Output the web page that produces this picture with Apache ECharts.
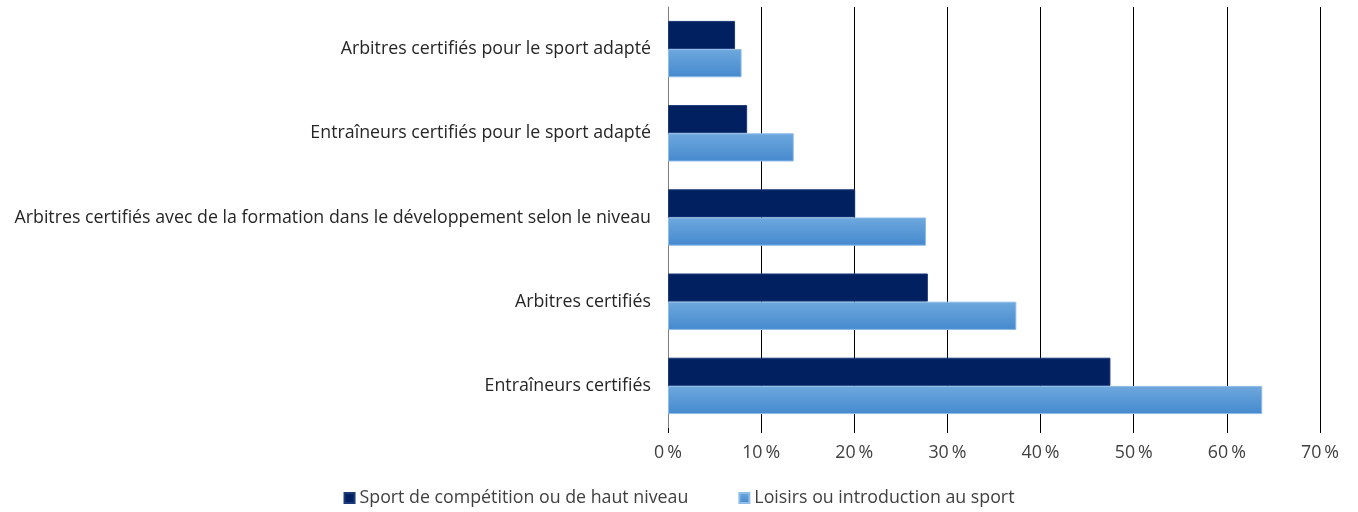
<!DOCTYPE html>
<html>
<head>
<meta charset="utf-8">
<script src="https://cdn.jsdelivr.net/npm/echarts@6/dist/echarts.min.js"></script>
<style>
  html, body { margin: 0; padding: 0; background: #fff; }
  #chart { width: 1358px; height: 512px; }
</style>
</head>
<body>
<div id="chart"></div>
<script>
const categories = [
  'Entraîneurs certifiés',
  'Arbitres certifiés',
  'Arbitres certifiés avec de la formation dans le développement selon le niveau',
  'Entraîneurs certifiés pour le sport adapté',
  'Arbitres certifiés pour le sport adapté'
]
const competition = [47.5, 27.9, 20.1, 8.5, 7.2]
const loisirs = [63.8, 37.4, 27.7, 13.5, 7.9]
const seriesNames = ['Sport de compétition ou de haut niveau', 'Loisirs ou introduction au sport']

const font = '"Open Sans", sans-serif'
const darkBlue = '#002060'
const lightGrad = new echarts.graphic.LinearGradient(0, 0, 0, 1, [
  { offset: 0, color: '#6ea8de' },
  { offset: 1, color: '#4589cd' }
])

const chart = echarts.init(document.getElementById('chart'))

chart.setOption({
  animation: false,
  textStyle: { fontFamily: font },
  grid: { left: 668, right: 38, top: 7, bottom: 84 },
  legend: {
    bottom: 0,
    left: 'center',
    itemWidth: 10,
    itemHeight: 10,
    itemGap: 50,
    icon: 'rect',
    textStyle: { fontSize: 17.8, color: '#404040', fontFamily: font },
    data: seriesNames
  },
  xAxis: {
    type: 'value',
    min: 0,
    max: 70,
    interval: 10,
    axisLine: { show: false },
    axisTick: { show: true, length: 5, lineStyle: { color: '#000' } },
    axisLabel: {
      formatter: v => v + '\u2009%',
      fontSize: 17.8,
      color: '#404040',
      margin: 16
    },
    splitLine: { show: true, lineStyle: { color: '#000', width: 1 } }
  },
  yAxis: {
    type: 'category',
    data: categories,
    axisLine: { show: true, lineStyle: { color: '#808080' } },
    axisTick: { show: false },
    axisLabel: { fontSize: 17.8, color: '#262626', margin: 17 }
  },
  series: [
    {
      name: seriesNames[0],
      type: 'bar',
      data: competition,
      barGap: '0%',
      barCategoryGap: '33%',
      itemStyle: { color: darkBlue, borderColor: '#1a3a78', borderWidth: 1 }
    },
    {
      name: seriesNames[1],
      type: 'bar',
      data: loisirs,
      barGap: '0%',
      barCategoryGap: '33%',
      itemStyle: { color: lightGrad, borderColor: '#8fbce8', borderWidth: 1 }
    }
  ]
})
</script>
</body>
</html>
